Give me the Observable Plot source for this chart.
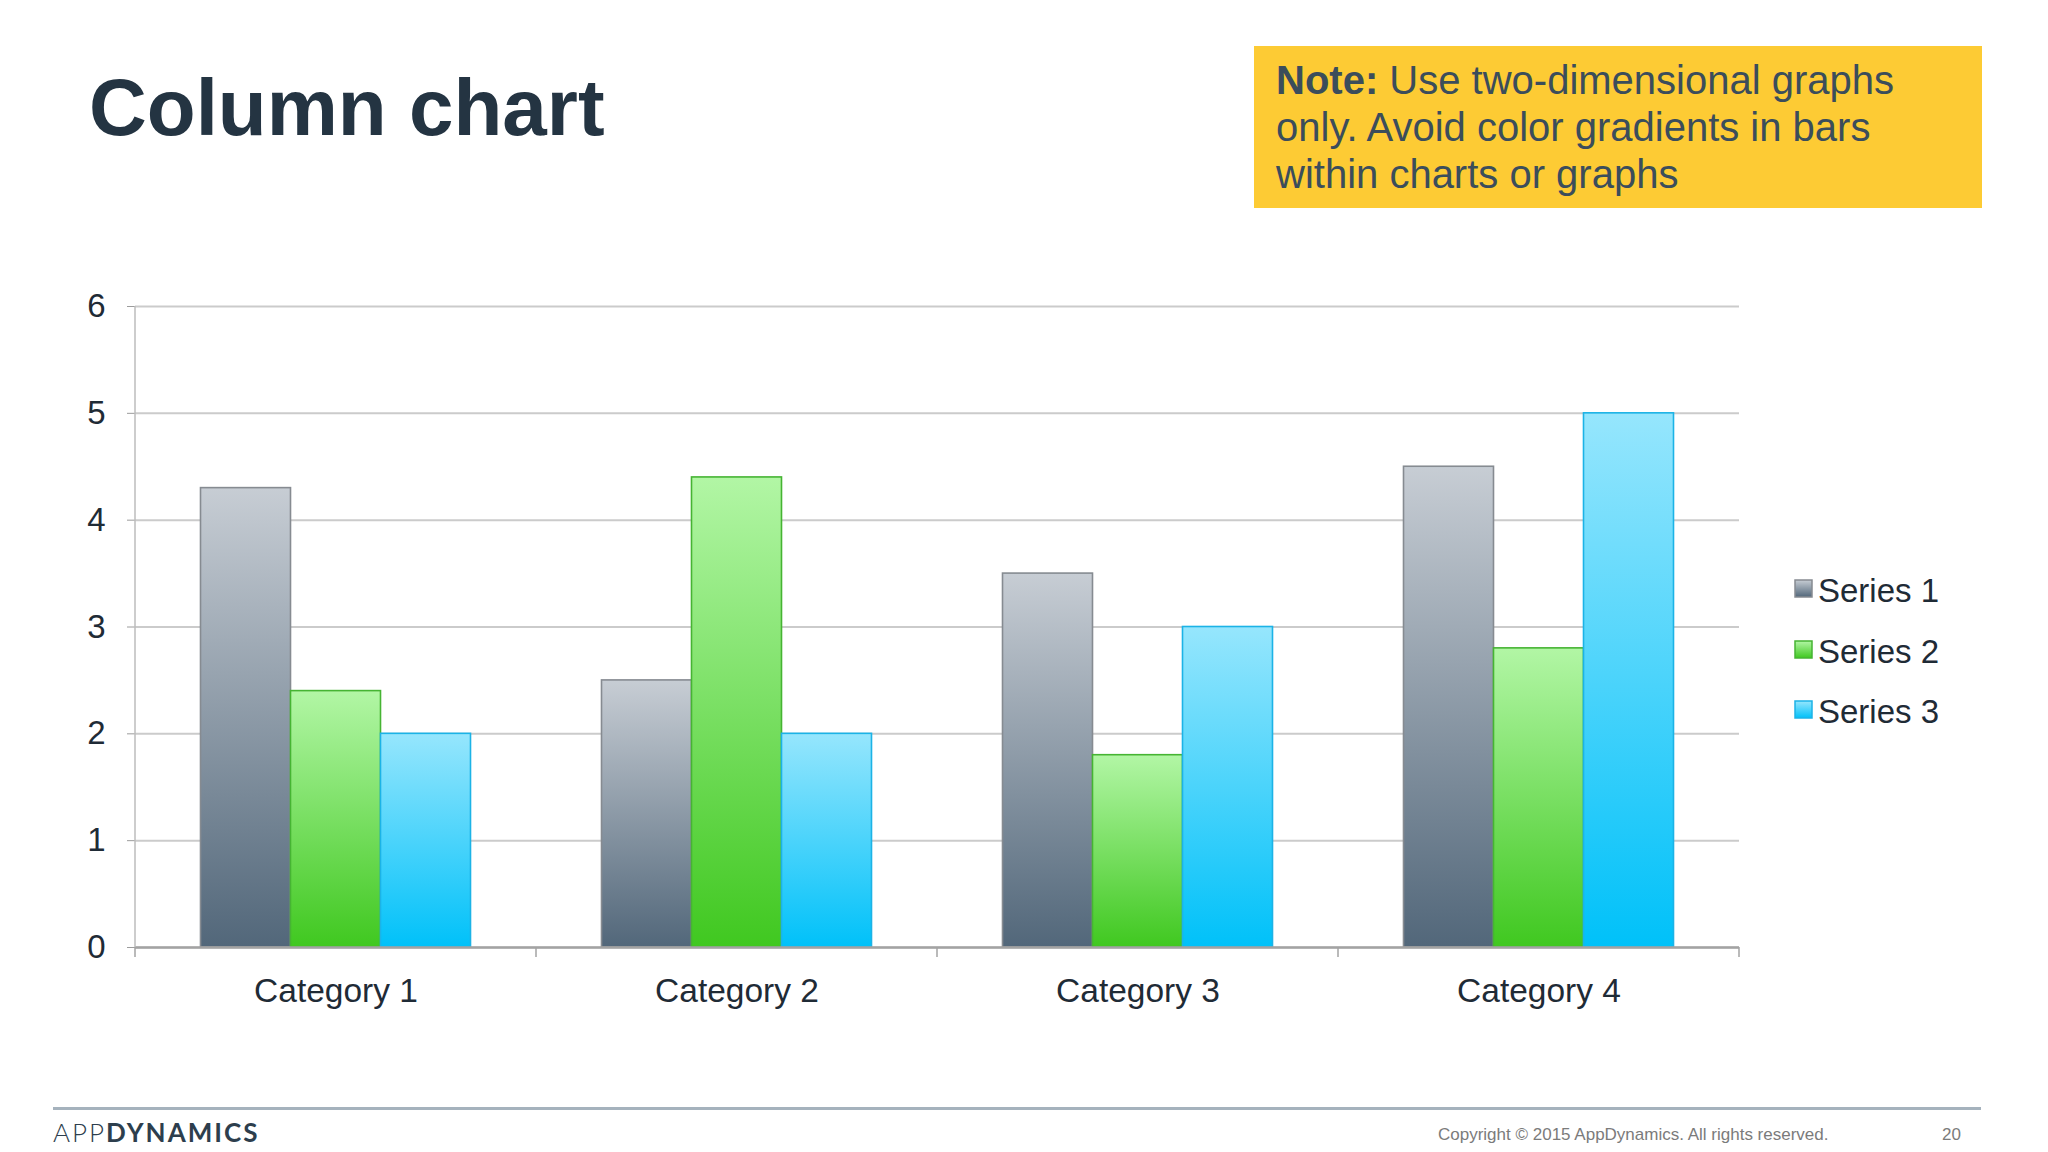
<!DOCTYPE html>
<html>
<head>
<meta charset="utf-8">
<script src="https://cdn.jsdelivr.net/npm/d3@7"></script>
<script src="https://cdn.jsdelivr.net/npm/@observablehq/plot@0.6"></script>
<style>
  html, body { margin: 0; padding: 0; background: #ffffff; }
  #page { position: relative; width: 2048px; height: 1152px; overflow: hidden; background: #ffffff;
          font-family: "Liberation Sans", Arial, Helvetica, sans-serif; }
  #title { position: absolute; left: 89px; top: 68px; font-size: 80px; line-height: 80px; font-weight: bold;
           color: #243442; white-space: nowrap; }
  #note { position: absolute; left: 1254px; top: 46px; width: 728px; height: 162px; background: #fdcb34;
          box-sizing: border-box; padding: 11px 0 0 22px; font-size: 40px; line-height: 47px; color: #3b4d5b; white-space: nowrap; }
  #note b { font-weight: bold; }
  #chart { position: absolute; left: 0; top: 240px; }
  .leg-row { position: absolute; left: 1794px; height: 40px; font-size: 33px; line-height: 40px; color: #1f2b36; white-space: nowrap; }
  .leg-row svg { position: absolute; left: 0; }
  .leg-row span { position: absolute; left: 24px; top: 0; }
  #rule { position: absolute; left: 53px; top: 1107px; width: 1928px; height: 3px; background: #a5b2bd; }
  #logo { position: absolute; left: 53px; top: 1117px; font-family: Lato, "Open Sans", sans-serif; font-size: 26px;
          line-height: 31px; letter-spacing: 2px; color: #2d3e4d; white-space: nowrap; }
  #logo .l { font-weight: 300; }
  #logo .b { font-weight: 700; }
  #copy { position: absolute; left: 1438px; top: 1125px; font-size: 17px; line-height: 19px; color: #7b7b7b; white-space: nowrap; }
  #pnum { position: absolute; left: 1942px; top: 1125px; font-size: 17px; line-height: 19px; color: #7b7b7b; }
</style>
</head>
<body>
<div id="page">
  <svg width="0" height="0" style="position:absolute" aria-hidden="true">
    <defs id="gdefs"></defs>
  </svg>
  <div id="title">Column chart</div>
  <div id="note"><b>Note:</b> Use two-dimensional graphs<br>only. Avoid color gradients in bars<br>within charts or graphs</div>
  <div id="chart"></div>
  <div id="legend"></div>
  <div id="rule"></div>
  <div id="logo"><span class="l">APP</span><span class="b">DYNAMICS</span></div>
  <div id="copy">Copyright © 2015 AppDynamics. All rights reserved.</div>
  <div id="pnum">20</div>
</div>
<script>
// ---- data ----
const categories = ["Category 1", "Category 2", "Category 3", "Category 4"];
const seriesNames = ["Series 1", "Series 2", "Series 3"];
const series1 = [4.3, 2.5, 3.5, 4.5];
const series2 = [2.4, 4.4, 1.8, 2.8];
const series3 = [2.0, 2.0, 3.0, 5.0];
const yTicks = [0, 1, 2, 3, 4, 5, 6];

// ---- styles ----
const gradTop = ["#c7cdd4", "#b2f6a5", "#96e6fd"];
const gradBottom = ["#52677a", "#40c820", "#00c1f9"];
const barStroke = ["#868b91", "#46b433", "#1cb3e6"];

const seriesValues = [series1, series2, series3];
const rows = [];
seriesNames.forEach((s, si) => {
  categories.forEach((c, ci) => rows.push({category: c, series: s, value: seriesValues[si][ci]}));
});

// gradient defs
const defs = d3.select("#gdefs");
seriesNames.forEach((s, i) => {
  const g = defs.append("linearGradient").attr("id", "grad" + i)
    .attr("x1", 0).attr("y1", 0).attr("x2", 0).attr("y2", 1);
  g.append("stop").attr("offset", "0%").attr("stop-color", gradTop[i]);
  g.append("stop").attr("offset", "100%").attr("stop-color", gradBottom[i]);
});

const W = 2048, H = 820;
const plot = Plot.plot({
  width: W,
  height: H,
  marginLeft: 134.5,
  marginRight: 308,
  marginTop: 66,
  marginBottom: 113,
  style: {background: "transparent", fontFamily: "'Liberation Sans', Arial, sans-serif", color: "#1f2b36"},
  fx: {domain: categories, padding: 0, label: null},
  x: {domain: seriesNames, paddingInner: 0, paddingOuter: 0.72, axis: null},
  y: {domain: [0, 6], label: null},
  marks: [
    Plot.ruleY(yTicks, {stroke: "#cbcbcb", strokeWidth: 2}),
    ...seriesNames.map((s, i) => Plot.barY(rows.filter(d => d.series === s), {
      fx: "category", x: "series", y: "value",
      fill: `url(#grad${i})`, stroke: barStroke[i], strokeWidth: 1.6
    })),
    Plot.ruleY([0], {stroke: "#a3a3a3", strokeWidth: 2.5}),
    Plot.axisY({ticks: yTicks, tickFormat: d3.format("d"), tickSize: 8, tickPadding: 22, fontSize: 33,
                stroke: "#9c9c9c", fill: "#1f2b36", label: null}),
    Plot.axisFx({anchor: "bottom", tickSize: 0, tickPadding: 31, fontSize: 33.5, fill: "#1f2b36", label: null})
  ]
});
document.getElementById("chart").appendChild(plot);

// axis line and category boundary ticks, from the plot's own scales
const fxS = plot.scale("fx");
const yS = plot.scale("y");
const y0 = yS.apply(0), yTop = yS.apply(6);
const bounds = categories.map(c => fxS.apply(c)).concat([fxS.apply(categories[categories.length - 1]) + fxS.bandwidth]);
const deco = d3.select(plot).append("g");
deco.append("line").attr("x1", bounds[0]).attr("x2", bounds[0]).attr("y1", yTop).attr("y2", y0)
  .attr("stroke", "#bdbdbd").attr("stroke-width", 1.5);
deco.selectAll("line.bt").data(bounds).join("line").attr("class", "bt")
  .attr("x1", d => d).attr("x2", d => d).attr("y1", y0).attr("y2", y0 + 10)
  .attr("stroke", "#a3a3a3").attr("stroke-width", 1.5);

// legend
const leg = d3.select("#legend");
const sqTop = [579, 639.5, 700];
seriesNames.forEach((s, i) => {
  const row = leg.append("div").attr("class", "leg-row").style("top", (sqTop[i] - 8) + "px");
  const sv = row.append("svg").attr("width", 20).attr("height", 20).style("top", "8px");
  sv.append("rect").attr("x", 1).attr("y", 1).attr("width", 17).attr("height", 17)
    .attr("fill", `url(#grad${i})`).attr("stroke", barStroke[i]).attr("stroke-width", 1.5);
  row.append("span").text(s);
});
</script>
</body>
</html>
